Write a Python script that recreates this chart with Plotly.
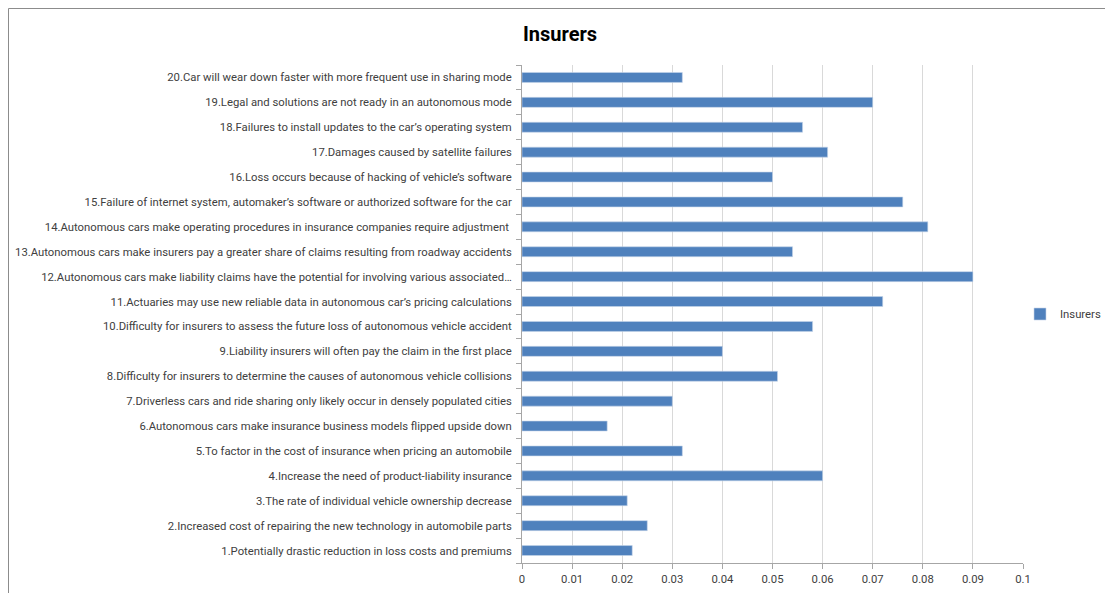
import plotly.graph_objects as go

categories = [
    "1.Potentially drastic reduction in loss costs and premiums",
    "2.Increased cost of repairing the new technology in automobile parts",
    "3.The rate of individual vehicle ownership decrease",
    "4.Increase the need of product-liability insurance",
    "5.To factor in the cost of insurance when pricing an automobile",
    "6.Autonomous cars make insurance business models flipped upside down",
    "7.Driverless cars and ride sharing only likely occur in densely populated cities",
    "8.Difficulty for insurers to determine the causes of autonomous vehicle collisions",
    "9.Liability insurers will often pay the claim in the first place",
    "10.Difficulty for insurers to assess the future loss of autonomous vehicle accident",
    "11.Actuaries may use new reliable data in autonomous car\u2019s pricing calculations",
    "12.Autonomous cars make liability claims have the potential for involving various associated\u2026",
    "13.Autonomous cars make insurers pay a greater share of claims resulting from roadway accidents",
    "14.Autonomous cars make operating procedures in insurance companies require adjustment ",
    "15.Failure of internet system, automaker\u2019s software or authorized software for the car",
    "16.Loss occurs because of hacking of vehicle\u2019s software",
    "17.Damages caused by satellite failures",
    "18.Failures to install updates to the car\u2019s operating system",
    "19.Legal and solutions are not ready in an autonomous mode",
    "20.Car will wear down faster with more frequent use in sharing mode",
]
values = [0.022, 0.025, 0.021, 0.060, 0.032, 0.017, 0.030, 0.051, 0.040, 0.058,
          0.072, 0.090, 0.054, 0.081, 0.076, 0.050, 0.061, 0.056, 0.070, 0.032]
x_ticks = [0, 0.01, 0.02, 0.03, 0.04, 0.05, 0.06, 0.07, 0.08, 0.09, 0.1]
x_tick_labels = ["0", "0.01", "0.02", "0.03", "0.04", "0.05", "0.06", "0.07", "0.08", "0.09", "0.1"]

FONT = "Roboto, Liberation Sans, sans-serif"

fig = go.Figure()
fig.add_trace(go.Bar(
    y=categories, x=values, orientation="h", name="Insurers",
    marker=dict(color="#4f81bd", line=dict(color="#c6d5ea", width=0.6)),
    showlegend=True,
))

# page has an 8px body margin, so the figure is drawn offset by (8, 8)
W, H = 1105, 585
ml, mr, mt, mb = 514, 90, 57, 30
PW, PH = W - ml - mr, H - mt - mb
fig.update_layout(
    width=W, height=H,
    margin=dict(l=ml, r=mr, t=mt, b=mb, pad=0, autoexpand=False),
    paper_bgcolor="white", plot_bgcolor="white",
    font=dict(family=FONT, size=11.3, color="#404040"),
    title=dict(text="<b>Insurers</b>", x=552 / W, xanchor="center",
               y=1 - 26 / H, yanchor="middle",
               font=dict(family=FONT, size=20, color="#000000")),
    bargap=0.6,
    legend=dict(x=(1098 - ml) / PW, y=0.5, xanchor="right", yanchor="middle",
                font=dict(family=FONT, size=11.3, color="#404040"),
                itemwidth=30, bgcolor="rgba(0,0,0,0)"),
    xaxis=dict(range=[0, 0.1], tickvals=x_ticks, ticktext=x_tick_labels,
               showgrid=True, gridcolor="#d9d9d9", gridwidth=1,
               showline=True, linecolor="#a6a6a6", linewidth=1,
               ticks="outside", ticklen=5, tickcolor="#a6a6a6",
               zeroline=False, tickfont=dict(size=11.3, color="#404040")),
    yaxis=dict(categoryorder="array", categoryarray=categories,
               showline=True, linecolor="#a6a6a6", linewidth=1,
               ticks="outside", ticklen=5, tickcolor="#a6a6a6",
               tickson="boundaries", showgrid=False, ticklabelstandoff=7,
               tickfont=dict(size=11.3, color="#404040"), automargin=False),
    shapes=[
        dict(type="line", xref="paper", yref="paper",
             x0=-(ml - 0.5) / PW, x1=(W - ml) / PW,
             y0=1 + (mt - 0.5) / PH, y1=1 + (mt - 0.5) / PH,
             line=dict(color="#8c8c8c", width=1)),
        dict(type="line", xref="paper", yref="paper",
             x0=-(ml - 0.5) / PW, x1=-(ml - 0.5) / PW,
             y0=1 + (mt - 0.5) / PH, y1=-mb / PH,
             line=dict(color="#8c8c8c", width=1)),
    ],
)

fig.write_html("out.html")
